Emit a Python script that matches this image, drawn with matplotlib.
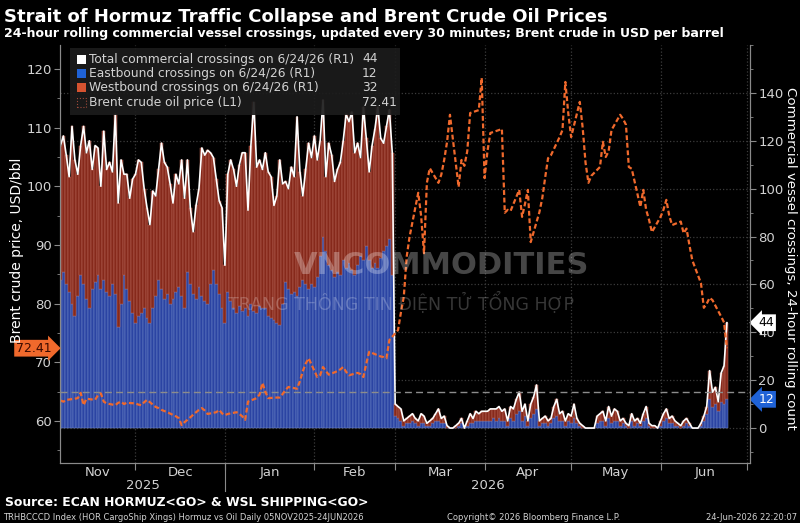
import numpy as np
import pandas as pd
import matplotlib
matplotlib.use("Agg")
import matplotlib.pyplot as plt
import matplotlib.transforms as mtransforms

# 24-hour rolling crossings, one value per day, 05-Nov-2025 .. 24-Jun-2026
total = [
    # Nov
    118, 122, 114, 105, 126, 112, 106, 118, 126, 115, 120, 108, 118, 117, 101, 124,
    108, 111, 107, 131, 94, 112, 106, 106, 96, 104,
    # Dec
    106, 112, 111, 100, 92, 85, 99, 97, 108, 119, 111, 109, 102, 94, 106, 102,
    112, 96, 112, 92, 82, 93, 100, 117, 114, 116, 115, 113, 104, 95, 92,
    # Jan
    68, 106, 112, 108, 101, 110, 115, 115, 91, 118, 136, 109, 112, 108, 115, 107,
    105, 93, 97, 112, 102, 103, 100, 109, 105, 130, 107, 97, 108, 119, 113,
    # Feb
    122, 112, 120, 137, 105, 119, 114, 103, 108, 111, 120, 131, 128, 132, 115, 119,
    113, 134, 121, 107, 118, 125, 134, 121, 119, 126, 133, 115,
    # Mar
    10, 9, 8, 3, 4, 5, 6, 4, 3, 6, 5, 2, 3, 4, 6, 8, 4, 5, 1, 0, 0, 1, 2, 4, 0, 3,
    6, 4, 7, 6, 7,
    # Apr
    7, 7, 8, 8, 8, 9, 7, 8, 3, 9, 8, 12, 15, 7, 10, 3, 10, 13, 18, 3, 4, 5, 3, 4,
    9, 12, 6, 7, 3, 6,
    # May
    5, 10, 4, 2, 1, 0, 0, 0, 0, 5, 6, 7, 3, 9, 5, 8, 7, 3, 4, 2, 1, 6, 3, 4, 2, 6,
    9, 2, 1, 1, 0,
    # Jun
    3, 6, 8, 4, 5, 3, 2, 1, 3, 4, 2, 0, 0, 0, 2, 5, 9, 24, 15, 17, 11, 23, 26, 44,
]

east = [
    # Nov
    62, 65, 60, 57, 52, 47, 55, 64, 60, 54, 50, 58, 61, 64, 58, 62, 57, 55, 60, 56,
    42, 52, 64, 58, 53, 48,
    # Dec
    44, 47, 48, 50, 46, 44, 50, 55, 62, 58, 54, 56, 52, 54, 57, 59, 55, 50, 65, 60,
    56, 54, 59, 55, 53, 52, 60, 66, 60, 56, 50,
    # Jan
    44, 57, 53, 50, 48, 51, 49, 50, 47, 52, 49, 48, 51, 50, 50, 47, 46, 45, 44, 43,
    52, 61, 58, 56, 57, 55, 59, 62, 60, 58, 60,
    # Feb
    59, 63, 72, 80, 74, 68, 66, 63, 65, 64, 70, 67, 69, 66, 64, 68, 72, 70, 76, 70,
    67, 69, 67, 71, 74, 76, 79, 64,
    # Mar
    5, 4, 3, 1, 2, 2, 3, 2, 1, 2, 2, 1, 1, 2, 3, 3, 2, 2, 0, 0, 0, 0, 1, 2, 0, 1,
    2, 2, 3, 3, 3,
    # Apr
    3, 3, 3, 4, 3, 4, 3, 3, 1, 4, 3, 6, 7, 3, 5, 1, 4, 6, 8, 1, 2, 2, 1, 2, 4, 5,
    3, 3, 1, 3,
    # May
    2, 4, 2, 1, 0, 0, 0, 0, 0, 2, 3, 3, 1, 4, 2, 3, 3, 1, 2, 1, 0, 3, 1, 2, 1, 3,
    4, 1, 0, 0, 0,
    # Jun
    1, 3, 4, 2, 2, 1, 1, 0, 1, 2, 1, 0, 0, 0, 1, 3, 6, 12, 9, 10, 7, 11, 10, 12,
]

# Brent, business days 05-Nov-2025 .. 24-Jun-2026
brent = [
    63.5, 63.3, 63.6, 63.8, 63.9, 64.8, 62.7, 63.8, 63.6, 64.4, 64.7, 63.3, 63.0,
    62.7, 63.1, 63.3, 62.9, 63.1,
    63.0, 62.8, 62.7, 63.2, 63.6, 62.4, 62.2, 61.9, 61.7, 61.5, 60.8, 60.5, 59.3,
    59.8, 60.2, 61.5, 61.9, 62.2, 61.8, 61.2, 61.5, 61.9, 61.3,
    61.0, 61.2, 61.5, 61.2, 60.8, 60.2, 63.3, 63.9, 64.5, 66.5, 65.0, 63.9, 64.0,
    64.0, 64.6, 65.3, 65.8, 65.5, 66.8, 68.5, 69.8, 70.7,
    67.5, 67.8, 69.2, 68.5, 67.9, 68.5, 68.8, 69.2, 68.4, 67.8, 68.2, 68.0, 67.5,
    69.8, 71.8, 71.2, 71.0, 70.9, 70.7, 73.8,
    75.5, 78.5, 81.2, 88.0, 91.4, 98.9, 95.0, 88.6, 100.6, 103.1, 100.6, 102.0,
    104.5, 107.6, 112.2, 99.9, 104.5, 103.5, 106.0, 112.5, 113.0, 118.5,
    101.4, 106.0, 109.1, 109.6, 109.8, 95.5, 96.0, 95.8, 99.4, 94.8, 97.0, 99.4,
    90.5, 95.6, 98.0, 101.5, 104.8, 105.3, 108.4, 109.6, 117.8, 112.5,
    108.4, 114.4, 110.0, 104.0, 100.6, 101.8, 103.3, 107.6, 105.0, 106.0, 109.6,
    112.2, 111.5, 110.5, 103.3, 103.0, 96.5, 99.4, 96.0, 94.3, 92.2,
    94.8, 96.0, 97.7, 95.0, 93.4, 94.0, 92.0, 92.8, 90.0, 87.4, 83.5, 79.3, 80.0,
    81.0, 80.6, 77.8, 76.8, 72.41,
]

months = ["Nov", "Dec", "Jan", "Feb", "Mar", "Apr", "May", "Jun"]
days = pd.date_range("2025-11-05", "2026-06-24", freq="D")
bdays = pd.bdate_range("2025-11-05", "2026-06-24")
total = np.array(total)
east = np.array(east)
west = total - east

BG = "#000000"
GRID = "#3c3c3c"
AXC = "#8a8a8a"
TXT = "#d2d2d2"
ORANGE = "#f0692c"

plt.rcParams["font.family"] = ["DejaVu Sans"]
fig = plt.figure(figsize=(8, 5.23), dpi=100, facecolor=BG)
ax = fig.add_axes([0.075, 0.1147, 0.8625, 0.7993], facecolor=BG)
ax2 = ax.twinx()

# crossings (right axis)
ax.bar(days, east, width=1.0, color="#2b44a3", edgecolor="#7086c8", linewidth=0.35)
ax.bar(days, west, bottom=east, width=1.0, color="#86291b", edgecolor="#b9675a",
       linewidth=0.35)
ax.plot(days, total, color="white", lw=1.2)

# Brent (left axis)
ax2.axhline(65, color="#8c8c8c", lw=1.0, ls=(0, (5, 3)))
ax2.plot(bdays, brent, color=ORANGE, lw=1.6, ls=(0, (2.2, 1.2)))

x0 = pd.Timestamp("2025-11-04 20:00")
x1 = pd.Timestamp("2026-07-02")
ax.set_xlim(x0, x1)
ax.set_ylim(-14.6, 160)
ax2.set_ylim(52.84, 124.1)

ax.yaxis.tick_right()
ax2.yaxis.tick_left()
ax.set_yticks(range(0, 141, 20))
ax.set_yticks(range(-10, 161, 10), minor=True)
ax2.set_yticks(range(60, 121, 10))
ax2.set_yticks(range(55, 125, 5), minor=True)

month_starts = pd.date_range("2025-12-01", "2026-07-01", freq="MS")
ax.set_xticks(month_starts)
ax.set_xticklabels([])
edges = [x0] + list(month_starts[:-1]) + [x1]
mids = [a + (b - a) / 2 for a, b in zip(edges[:-1], edges[1:])]
ax.set_xticks(mids, minor=True)
ax.set_xticklabels(months, minor=True)
ax.tick_params(axis="x", which="minor", length=0, pad=2, labelsize=9.5, colors=TXT)
ax.tick_params(axis="x", which="major", length=5, color=AXC)

for a in (ax, ax2):
    a.tick_params(axis="y", which="major", length=4, color=AXC, labelcolor=TXT,
                  labelsize=9.5, pad=2)
    a.tick_params(axis="y", which="minor", length=2, color=AXC)
    for s in a.spines.values():
        s.set_color(AXC)
    a.spines["top"].set_visible(False)

ax.grid(True, which="major", color=GRID, ls=":", lw=0.9)
ax.set_axisbelow(True)

fig.text(17 / 800, 1 - 250 / 523, "Brent crude price, USD/bbl", color="white",
         fontsize=10, rotation=90, ha="center", va="center")
fig.text(790 / 800, 1 - 258 / 523, "Commercial vessel crossings, 24-hour rolling count",
         color="white", fontsize=9.6, rotation=270, ha="center", va="center")

# year labels and separator
trans = mtransforms.blended_transform_factory(ax.transData, ax.transAxes)
jan1 = pd.Timestamp("2026-01-01")
ax.plot([jan1, jan1], [0, -0.066], transform=trans, color=AXC, lw=0.8, clip_on=False)
ax.text(x0 + (jan1 - x0) / 2, -0.053, "2025", transform=trans, ha="center",
        va="center", color=TXT, fontsize=9.5)
ax.text(jan1 + (x1 - jan1) / 2, -0.053, "2026", transform=trans, ha="center",
        va="center", color=TXT, fontsize=9.5)

# legend box
legend_rows = [
    ("white", "Total commercial crossings on 6/24/26 (R1)", f"{total[-1]}"),
    ("#1f62d6", "Eastbound crossings on 6/24/26 (R1)", f"{east[-1]}"),
    ("#d65330", "Westbound crossings on 6/24/26 (R1)", f"{west[-1]}"),
    (None, "Brent crude oil price (L1)", f"{brent[-1]:.2f}"),
]
fig.patches.append(plt.Rectangle((70 / 800, 1 - 115 / 523), 330 / 800, 67 / 523,
                                 transform=fig.transFigure, facecolor="#1c1c1c",
                                 edgecolor="none", alpha=0.92, zorder=5))
for i, (c, label, val) in enumerate(legend_rows):
    yy = 1 - (59 + i * 14.4) / 523
    if c is None:
        fig.patches.append(plt.Rectangle((77 / 800, yy - 4.5 / 523), 9 / 800, 9 / 523,
                                         transform=fig.transFigure, facecolor="none",
                                         edgecolor="#a04a3a", lw=0.8, ls=":", zorder=6))
    else:
        fig.patches.append(plt.Rectangle((77 / 800, yy - 4.5 / 523), 9 / 800, 9 / 523,
                                         transform=fig.transFigure, facecolor=c,
                                         edgecolor="none", zorder=6))
    fig.text(89 / 800, yy, label, color=TXT, fontsize=8.8, va="center", zorder=7)
    fig.text(362 / 800, yy, val, color=TXT, fontsize=8.8, va="center", zorder=7)

# last-value tags
ax2.annotate(f"{brent[-1]:.2f}", xy=(-0.012, brent[-1]), xycoords=("axes fraction", "data"),
             ha="right", va="center", fontsize=9, color="#3a0a00",
             bbox=dict(boxstyle="rarrow,pad=0.15", fc=ORANGE, ec="none"))
ax.annotate(f"{total[-1]}", xy=(1.012, total[-1]), xycoords=("axes fraction", "data"),
            ha="left", va="center", fontsize=9, color="black", zorder=10,
            bbox=dict(boxstyle="larrow,pad=0.15", fc="white", ec="none"))
ax.annotate(f"{east[-1]}", xy=(1.012, east[-1]), xycoords=("axes fraction", "data"),
            ha="left", va="center", fontsize=9, color="white", zorder=10,
            bbox=dict(boxstyle="larrow,pad=0.15", fc="#1f62d6", ec="none"))

# watermark
fig.text(442 / 800, 1 - 266 / 523, "VNCOMMODITIES", color="white", alpha=0.28,
         fontsize=22, fontweight="bold", ha="center", va="center", zorder=8)
fig.text(401 / 800, 1 - 303 / 523, "TRANG THÔNG TIN ĐIỆN TỬ TỔNG HỢP", color="white",
         alpha=0.22, fontsize=12.5, ha="center", va="center", zorder=8)

# titles and footer
fig.text(4 / 800, 1 - 17 / 523, "Strait of Hormuz Traffic Collapse and Brent Crude Oil Prices",
         color="white", fontsize=13.0, fontweight="bold", va="center")
fig.text(4 / 800, 1 - 33 / 523,
         "24-hour rolling commercial vessel crossings, updated every 30 minutes; "
         "Brent crude in USD per barrel",
         color="white", fontsize=9.0, fontweight="bold", va="center")
fig.text(5 / 800, 1 - 502 / 523, "Source: ECAN HORMUZ<GO> & WSL SHIPPING<GO>",
         color="white", fontsize=8.9, fontweight="bold", va="center")
fig.text(3 / 800, 1 - 517 / 523,
         "TRHBCCCD Index (HOR CargoShip Xings) Hormuz vs Oil Daily 05NOV2025-24JUN2026",
         color=TXT, fontsize=6.0, va="center")
fig.text(447 / 800, 1 - 517 / 523, "Copyright\u00a9 2026 Bloomberg Finance L.P.",
         color=TXT, fontsize=6.0, va="center")
fig.text(797 / 800, 1 - 517 / 523, "24-Jun-2026 22:20:07", color=TXT, fontsize=6.0,
         va="center", ha="right")

fig.savefig("out.png", dpi=100, facecolor=BG)
